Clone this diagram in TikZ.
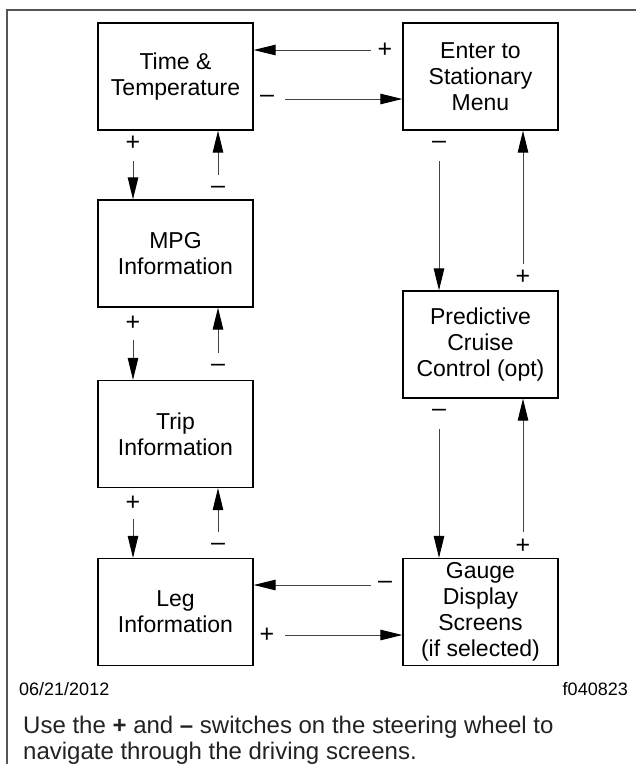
\documentclass[tikz,border=0pt]{standalone}
\usepackage{fontspec}
\setmainfont{Liberation Sans}
\usetikzlibrary{arrows.meta}
\newcommand\bxfont{\fontsize{23}{26}\selectfont}
\newcommand\lblfont{\fontsize{25}{26}\selectfont}
\newcommand\datefont{\fontsize{18}{22}\selectfont}
\newcommand\capfont{\fontsize{24}{26}\selectfont}
\definecolor{framegray}{HTML}{555555}
\definecolor{linegray}{HTML}{444444}
\definecolor{capgray}{HTML}{222222}
\tikzset{
  box/.style={draw=black, line width=1.3pt, minimum width=155pt, minimum height=107pt,
    inner sep=0pt, align=center, font=\bxfont},
  lbl/.style={font=\lblfont, inner sep=0pt},
  arr/.style={draw=linegray, line width=1pt, -{Triangle[length=22pt,width=10.5pt,color=black]}},
}
\begin{document}
\begin{tikzpicture}[x=1pt,y=-1pt]
\useasboundingbox (0,0) rectangle (636,764);
% frame
\draw[framegray, line width=1.3pt] (7,770) -- (7,10) -- (640,10);
% boxes
\node[box] (TT)  at (175.5,76.5) {Time \&\\Temperature};
\node[box] (EN)  at (480.5,76.5) {Enter to\\Stationary\\Menu};
\node[box] (MPG) at (175.5,253.5) {MPG\\Information};
\node[box] (TR)  at (175.5,434) {Trip\\Information};
\node[box] (LG)  at (175.5,612) {Leg\\Information};
\node[box] (PC)  at (480.5,344.5) {Predictive\\Cruise\\Control (opt)};
\node[box] (GA)  at (480.5,612) {Gauge\\Display\\Screens\\(if selected)};
% horizontal connectors
\node[lbl] (l1) at (385,50) {+};
\coordinate (h1) at (371,50);
\draw[arr] (h1) -- (h1 -| TT.east);
\node[lbl] (l2) at (267,99) {–};
\coordinate (h2) at (285,99);
\draw[arr] (h2) -- (h2 -| EN.west);
\node[lbl] (l3) at (385,585) {–};
\coordinate (h3) at (371,585);
\draw[arr] (h3) -- (h3 -| LG.east);
\node[lbl] (l4) at (267,635) {+};
\coordinate (h4) at (285,635);
\draw[arr] (h4) -- (h4 -| GA.west);
% left column down (+)
\node[lbl] (d1l) at (133,143) {+};
\coordinate (d1) at (133,161);
\draw[arr] (d1) -- (d1 |- MPG.north);
\node[lbl] (d2l) at (133,323) {+};
\coordinate (d2) at (133,340);
\draw[arr] (d2) -- (d2 |- TR.north);
\node[lbl] (d3l) at (133,503) {+};
\coordinate (d3) at (133,519);
\draw[arr] (d3) -- (d3 |- LG.north);
% left column up (-)
\node[lbl] (u1l) at (218,190) {–};
\coordinate (u1) at (218,175);
\draw[arr] (u1) -- (u1 |- TT.south);
\node[lbl] (u2l) at (218,368) {–};
\coordinate (u2) at (218,353);
\draw[arr] (u2) -- (u2 |- MPG.south);
\node[lbl] (u3l) at (218,547) {–};
\coordinate (u3) at (218,532);
\draw[arr] (u3) -- (u3 |- TR.south);
% right column down (-)
\node[lbl] (r1l) at (439,145) {–};
\coordinate (r1) at (439,161);
\draw[arr] (r1) -- (r1 |- PC.north);
\node[lbl] (r2l) at (439,413) {–};
\coordinate (r2) at (439,429);
\draw[arr] (r2) -- (r2 |- GA.north);
% right column up (+)
\node[lbl] (q1l) at (523,277) {+};
\coordinate (q1) at (523,264);
\draw[arr] (q1) -- (q1 |- EN.south);
\node[lbl] (q2l) at (523,546) {+};
\coordinate (q2) at (523,532);
\draw[arr] (q2) -- (q2 |- PC.south);
% footer
\node[font=\datefont, anchor=base west, inner sep=0pt] (date) at (19,695) {06/21/2012};
\node[font=\datefont, anchor=base east, inner sep=0pt] (fig) at (628,695) {f040823};
\node[font=\capfont, text=capgray, anchor=north west, inner sep=0pt, align=left] (cap) at (23,715.5)
  {Use the \textbf{+} and \textbf{–} switches on the steering wheel to\\navigate through the driving screens.};
\end{tikzpicture}
\end{document}
